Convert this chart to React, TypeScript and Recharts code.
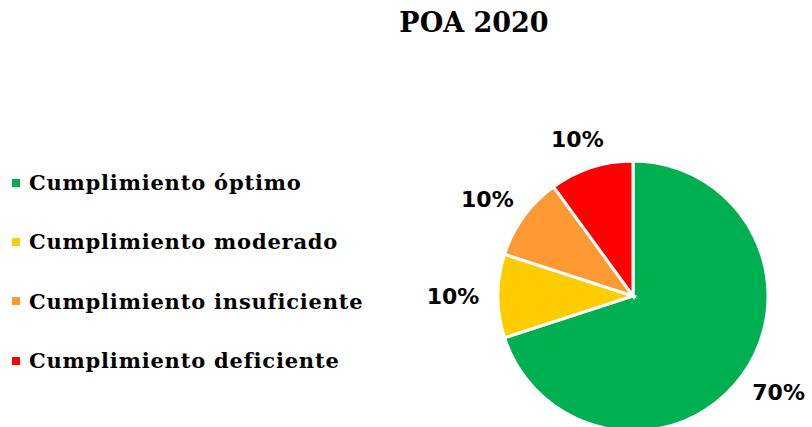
import React from 'react';
import { PieChart, Pie, Cell } from 'recharts';

const categories = [
  'Cumplimiento óptimo',
  'Cumplimiento moderado',
  'Cumplimiento insuficiente',
  'Cumplimiento deficiente',
];
const values = [70, 10, 10, 10];
const colors = ['#00B050', '#FFCC00', '#FF9933', '#FF0000'];

const data = categories.map((name, i) => ({ name, value: values[i] }));

const RADIAN = Math.PI / 180;
const LABEL_W = 52;
const LABEL_H = 22;

// "outside end" style: the label box sits just beyond the rim
const renderLabel = (props: any) => {
  const { cx, cy, midAngle, outerRadius, percent } = props;
  const cos = Math.cos(-midAngle * RADIAN);
  const sin = Math.sin(-midAngle * RADIAN);
  const r = outerRadius + 19;
  const x = cx + r * cos + (LABEL_W / 2) * cos;
  const y = cy + r * sin + (LABEL_H / 2) * sin;
  return (
    <text
      x={x}
      y={y}
      textAnchor="middle"
      dominantBaseline="central"
      fill="#000"
      fontFamily="DejaVu Sans"
      fontWeight="bold"
      fontSize={22}
    >
      {`${Math.round(percent * 100)}%`}
    </text>
  );
};

// legend drawn as plain html so it does not eat into the pie's area
const LegendList = () => (
  <ul style={{ position: 'absolute', top: 153, left: 12, listStyle: 'none', margin: 0, padding: 0 }}>
    {categories.map((name, i) => (
      <li
        key={name}
        style={{
          height: 59.3,
          display: 'flex',
          alignItems: 'center',
          fontFamily: 'DejaVu Serif',
          fontWeight: 'bold',
          fontSize: 21,
          letterSpacing: 0.8,
          color: '#000',
          whiteSpace: 'nowrap',
        }}
      >
        <span
          style={{
            display: 'inline-block',
            width: 8,
            height: 8,
            background: colors[i],
            marginRight: 9,
          }}
        />
        {name}
      </li>
    ))}
  </ul>
);

const App = () => {
  return (
    <div style={{ position: 'absolute', left: 0, top: 0, width: 812, height: 427, overflow: 'hidden', background: '#fff' }}>
      <div
        style={{
          position: 'absolute',
          top: 7,
          left: 0,
          width: 948,
          textAlign: 'center',
          fontFamily: 'DejaVu Serif',
          fontWeight: 'bold',
          fontSize: 27,
          color: '#000',
        }}
      >
        POA 2020
      </div>
      <PieChart width={812} height={427} margin={{ top: 0, right: 0, bottom: 0, left: 0 }}>
        <Pie
          data={data}
          dataKey="value"
          nameKey="name"
          cx={633}
          cy={296}
          outerRadius={135}
          startAngle={90}
          endAngle={-270}
          stroke="#fff"
          strokeWidth={3}
          label={renderLabel}
          labelLine={false}
          isAnimationActive={false}
        >
          {data.map((d, i) => (
            <Cell key={d.name} fill={colors[i]} />
          ))}
        </Pie>
      </PieChart>
      <LegendList />
    </div>
  );
};

export default App;
